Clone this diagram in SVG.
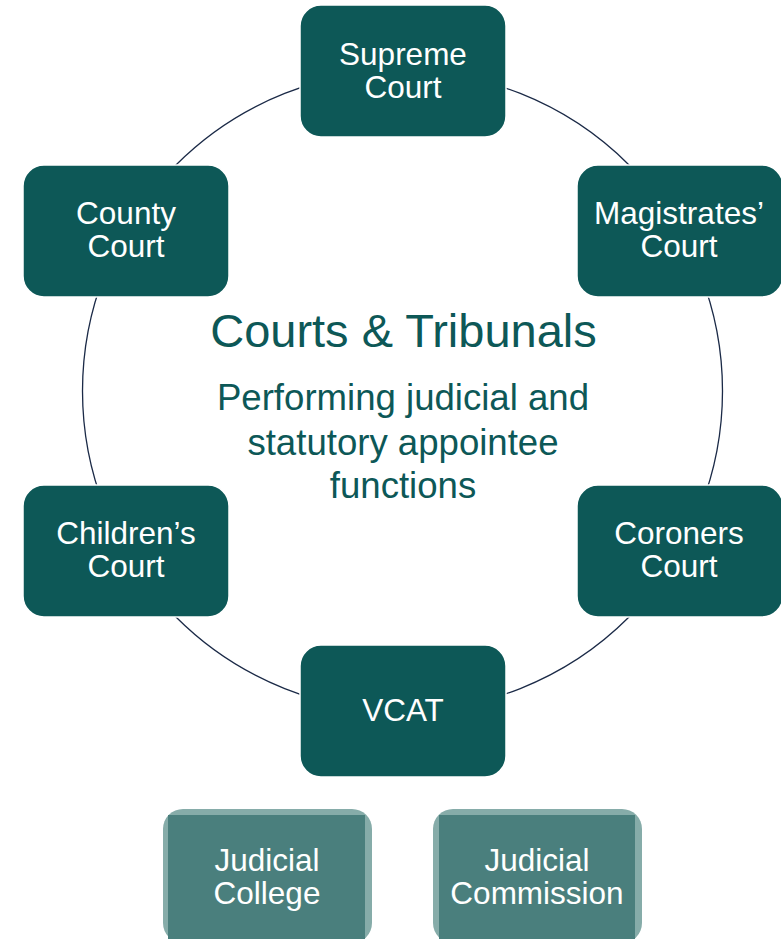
<svg xmlns="http://www.w3.org/2000/svg" width="781" height="939" viewBox="0 0 781 939">
<style>
.box{fill:#0D5857;stroke:#FFFFFF;stroke-width:1.5}
.lt{font-family:"Liberation Sans",Arial,sans-serif;font-size:31.5px;fill:#FFFFFF;text-anchor:middle}
.outer{fill:#86ACA9}
.inner{fill:#4A7F7D}
.title{font-family:"Liberation Sans",Arial,sans-serif;fill:#0D5857;text-anchor:middle}
</style>
<rect width="781" height="939" fill="#FFFFFF"/>
<g id="connectors">
<circle cx="402.5" cy="391" r="320" fill="none" stroke="#1B2A47" stroke-width="1.3"/>
</g>
<g id="center-text">
<text class="title" x="403.5" y="347" font-size="47">Courts &amp; Tribunals</text>
<text class="title" x="403" y="410" font-size="36.6">Performing judicial and</text>
<text class="title" x="403" y="455" font-size="36.6">statutory appointee</text>
<text class="title" x="403" y="498" font-size="36.6">functions</text>
</g>
<g id="supreme-court">
<rect class="box" x="300" y="5" width="206" height="132" rx="21"/>
<text class="lt" x="403" y="65">Supreme</text>
<text class="lt" x="403" y="98">Court</text>
</g>
<g id="magistrates-court">
<rect class="box" x="577" y="165" width="206" height="132" rx="21"/>
<text class="lt" x="679" y="224">Magistrates’</text>
<text class="lt" x="679" y="257">Court</text>
</g>
<g id="coroners-court">
<rect class="box" x="577" y="485" width="206" height="132" rx="21"/>
<text class="lt" x="679" y="544">Coroners</text>
<text class="lt" x="679" y="577">Court</text>
</g>
<g id="vcat">
<rect class="box" x="300" y="645" width="206" height="132" rx="21"/>
<text class="lt" x="403" y="721">VCAT</text>
</g>
<g id="childrens-court">
<rect class="box" x="23" y="485" width="206" height="132" rx="21"/>
<text class="lt" x="126" y="544">Children’s</text>
<text class="lt" x="126" y="577">Court</text>
</g>
<g id="county-court">
<rect class="box" x="23" y="165" width="206" height="132" rx="21"/>
<text class="lt" x="126" y="224">County</text>
<text class="lt" x="126" y="257">Court</text>
</g>
<g id="judicial-college">
<rect class="outer" x="163" y="809" width="209" height="134" rx="20"/>
<rect class="inner" x="168" y="815" width="197" height="128"/>
<text class="lt" x="267" y="871">Judicial</text>
<text class="lt" x="267" y="904">College</text>
</g>
<g id="judicial-commission">
<rect class="outer" x="433" y="809" width="209" height="134" rx="20"/>
<rect class="inner" x="439" y="815" width="196" height="128"/>
<text class="lt" x="537" y="871">Judicial</text>
<text class="lt" x="537" y="904">Commission</text>
</g>
</svg>
